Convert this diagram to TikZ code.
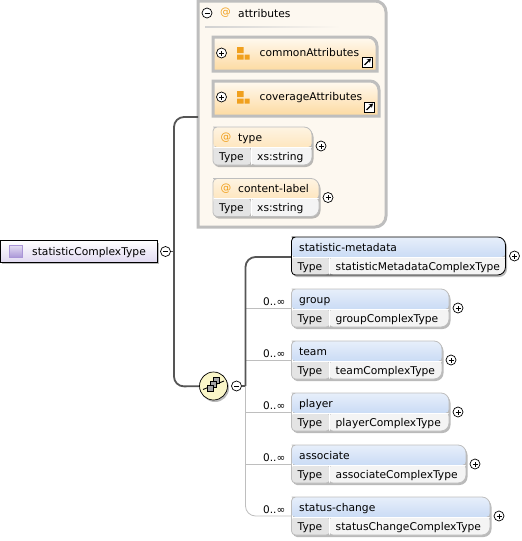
\documentclass[tikz,border=0pt]{standalone}
\usepackage{fontspec}
\setmainfont{DejaVu Sans}
\usetikzlibrary{arrows.meta,positioning,calc,shadows}
\definecolor{FrameGray}{RGB}{190,190,190}
\definecolor{BranchGray}{RGB}{190,190,190}
\definecolor{LineDark}{RGB}{85,85,85}
\definecolor{Cream}{RGB}{253,248,240}
\definecolor{Peach}{RGB}{253,218,160}
\definecolor{HeadBlue}{RGB}{176,202,240}
\definecolor{AttrOrange}{RGB}{240,160,30}
\definecolor{TypeGray}{RGB}{228,228,228}
\definecolor{ValueGray}{RGB}{244,244,244}
\definecolor{Lavender}{RGB}{170,150,215}
\definecolor{PaleYellow}{RGB}{250,246,200}
\tikzset{
  slot/.style={inner sep=0pt,outer sep=0pt,anchor=north west},
  plusminus/.style={circle,draw=black,fill=white,inner sep=0pt,minimum size=10pt,line width=0.7pt},
  softshadow/.style={drop shadow={shadow xshift=1.5pt,shadow yshift=-2pt,fill=black!45,opacity=.6}},
  elemframe/.style={line width=0.8pt,softshadow},
  nametext/.style={font=\fontsize{10.7}{12}\selectfont,inner sep=0pt,anchor=base west},
  occurs/.style={font=\fontsize{10.5}{12}\selectfont,inner sep=0pt,anchor=base west},
  atsign/.style={font=\fontsize{10.7}{12}\selectfont,text=AttrOrange,inner sep=0pt},
  trunk/.style={draw=LineDark,line width=1.8pt,rounded corners=10pt},
  branch/.style={draw=BranchGray,line width=0.8pt},
  seqbox/.style={draw=black,fill=gray!70,line width=0.5pt,minimum size=6pt,inner sep=0pt}
}
\newcommand{\pluspart}[1]{\draw[line width=0.7pt] ([xshift=-2.5pt]#1.center) -- ([xshift=2.5pt]#1.center) ([yshift=-2.5pt]#1.center) -- ([yshift=2.5pt]#1.center);}
\newcommand{\minuspart}[1]{\draw[line width=0.7pt] ([xshift=-2.5pt]#1.center) -- ([xshift=2.5pt]#1.center);}
\newcommand{\elemshape}[3]{% node, border, head colour
  \path[elemframe,draw=#2,path picture={
    \shade[top color=#3!30,bottom color=#3] (#1.north west) rectangle ([yshift=-20pt]#1.north east);
    \fill[TypeGray] ([yshift=-20pt]#1.north west) rectangle ([xshift=38pt]#1.south west);
    \fill[ValueGray] ([xshift=38pt,yshift=-20pt]#1.north west) rectangle (#1.south east);
    \draw[white,line width=0.8pt] ([yshift=-20pt]#1.north west) -- ([yshift=-20pt]#1.north east);
    \draw[white,line width=0.8pt] ([xshift=38pt,yshift=-20pt]#1.north west) -- ([xshift=38pt]#1.south west);
  }]
  ([xshift=4pt]#1.north west) [rounded corners=8pt] -- (#1.north east) -- (#1.south east) [rounded corners=4pt] -- (#1.south west) -- (#1.north west) -- cycle;}
\newcommand{\groupshape}[1]{% frame with the one round corner
  \path[draw=FrameGray,line width=3pt,top color=Peach!15,bottom color=Peach]
  (#1.north west) [rounded corners=9pt] -- (#1.north east) [sharp corners] -- (#1.south east) -- (#1.south west) -- cycle;}
\newcommand{\linkicon}[1]{%
  \node[draw=black,fill=white,line width=1pt,minimum size=10pt,inner sep=0pt,anchor=south east] (#1link) at ([xshift=-4pt,yshift=3.5pt]#1.south east) {};
  \draw[-{Stealth[length=4pt,width=4.5pt]},line width=1.2pt] ([xshift=-3pt,yshift=-3pt]#1link.center) -- ([xshift=3.5pt,yshift=3.5pt]#1link.center);}
\newcommand{\attricon}[1]{%
  \fill[AttrOrange] ([xshift=24pt,yshift=-10pt]#1.north west) rectangle ++(6.5pt,-6pt)
    ([xshift=24pt,yshift=-17.5pt]#1.north west) rectangle ++(6.5pt,-5pt)
    ([xshift=31.5pt,yshift=-17.5pt]#1.north west) rectangle ++(5pt,-5pt);}
\begin{document}
\begin{tikzpicture}[x=1pt,y=-1pt]
\useasboundingbox (0,0) rectangle (522,541);
% attribute frame
\node[slot,minimum width=188pt,minimum height=226pt] (attrs) at (198,1) {};
\path[draw=FrameGray,fill=Cream,line width=3pt] (attrs.north west) [rounded corners=11pt] -- (attrs.north east) -- (attrs.south east) [sharp corners] -- (attrs.south west) -- cycle;
\shade[left color=FrameGray!70,right color=Cream] (205,26.5) rectangle (340,27.5);
% attribute content
\node[plusminus] (attrsminus) at (207,13) {};
\minuspart{attrsminus}
\node[atsign] (attrsat) at (225.5,12.5) {@};
\node[nametext] (attrstext) at (238,17) {attributes};
\node[slot,minimum width=164pt,minimum height=34pt] (common) at (213,37) {};
\groupshape{common}
\node[slot,minimum width=166pt,minimum height=35pt] (coverage) at (213,81) {};
\groupshape{coverage}
\foreach \n/\t in {common/commonAttributes,coverage/coverageAttributes}{
  \attricon{\n}
  \node[plusminus] (\n plus) at ([xshift=8.5pt,yshift=-16pt]\n.north west) {};
  \pluspart{\n plus}
  \node[nametext] at ([xshift=46.5pt,yshift=-19.5pt]\n.north west) {\t};
  \linkicon{\n}
}
\node[slot,minimum width=99pt,minimum height=38pt] (type) at (213,127) {};
\node[slot,minimum width=106pt,minimum height=38pt] (contentlabel) at (213,178.5) {};
\foreach \n/\t in {type/type,contentlabel/content-label}{
  \elemshape{\n}{FrameGray}{Peach}
  \node[atsign] at ([xshift=13pt,yshift=-10.5pt]\n.north west) {@};
  \node[nametext] at ([xshift=25pt,yshift=-14pt]\n.north west) {\t};
  \node[nametext] at ([xshift=6pt,yshift=-33pt]\n.north west) {Type};
  \node[nametext] at ([xshift=44pt,yshift=-33pt]\n.north west) {xs:string};
  \node[plusminus] (\n plus) at ([xshift=9pt,yshift=-19pt]\n.north east) {};
  \pluspart{\n plus}
}
% root
\node[slot,draw=black,line width=0.9pt,top color=white,bottom color=Lavender!35,minimum width=157pt,minimum height=21.5pt,softshadow] (root) at (0,240.5) {};
\node[slot,draw=Lavender,top color=Lavender!30,bottom color=Lavender,minimum size=12.5pt] (rooticon) at (9.5,245) {};
\node[nametext] (roottext) at (32,255.5) {statisticComplexType};
\node[plusminus] (rootminus) at (165.5,251.5) {};
\minuspart{rootminus}
% sequence
\node[circle,draw=black,line width=0.7pt,fill=PaleYellow,minimum size=28pt,inner sep=0pt,softshadow] (seq) at (213.5,386) {};
\draw[line width=0.9pt] (203,389.5) -- (224,381);
\node[seqbox] (seqc) at (216.5,380.5) {};
\node[seqbox] (seqb) at (213.5,384) {};
\node[seqbox] (seqa) at (210,388) {};
\node[plusminus] (seqminus) at (236.5,386) {};
\minuspart{seqminus}
% elements
\node[slot,minimum width=214pt,minimum height=38pt] (metadata) at (291.5,237) {};
\node[slot,minimum width=157.5pt,minimum height=38pt] (group) at (291.5,289) {};
\node[slot,minimum width=150.5pt,minimum height=38pt] (team) at (291.5,341) {};
\node[slot,minimum width=157.5pt,minimum height=38pt] (player) at (291.5,393) {};
\node[slot,minimum width=174.5pt,minimum height=38pt] (associate) at (291.5,445) {};
\node[slot,minimum width=198.5pt,minimum height=38pt] (statuschange) at (291.5,497) {};
% connectors
\draw[draw=LineDark,line width=1.2pt] (rootminus) -- (174,251.5);
\draw[trunk] (attrs.west |- 0,117) -- (174,117) -- (174,386.5) -- (seq);
\draw[line width=1.2pt,draw=LineDark] (seqminus) -- (245.5,386);
\draw[branch,rounded corners=10pt] (245.5,386) -- (245.5,516) -- (statuschange.west |- 0,516);
\draw[branch] (245.5,308) -- (group.west |- 0,308);
\draw[branch] (245.5,360) -- (team.west |- 0,360);
\draw[branch] (245.5,412) -- (player.west |- 0,412);
\draw[branch] (245.5,464.5) -- (associate.west |- 0,464.5);
\draw[trunk] (245.5,386) -- (245.5,257) -- (metadata.west |- 0,257);
\foreach \n/\b/\t/\v in {group/FrameGray/group/groupComplexType,team/FrameGray/team/teamComplexType,player/FrameGray/player/playerComplexType,associate/FrameGray/associate/associateComplexType,statuschange/FrameGray/status-change/statusChangeComplexType,metadata/black/statistic-metadata/statisticMetadataComplexType}{
  \elemshape{\n}{\b}{HeadBlue}
  \node[nametext] at ([xshift=7.5pt,yshift=-14pt]\n.north west) {\t};
  \node[nametext] at ([xshift=6pt,yshift=-33pt]\n.north west) {Type};
  \node[nametext] at ([xshift=44pt,yshift=-33pt]\n.north west) {\v};
  \node[plusminus] (\n plus) at ([xshift=9pt,yshift=-19pt]\n.north east) {};
  \pluspart{\n plus}
}
\foreach \n in {group,team,player,associate,statuschange}{
  \node[occurs] at ([xshift=-28.5pt,yshift=-16pt]\n.north west) {0..∞};
}
\end{tikzpicture}
\end{document}
